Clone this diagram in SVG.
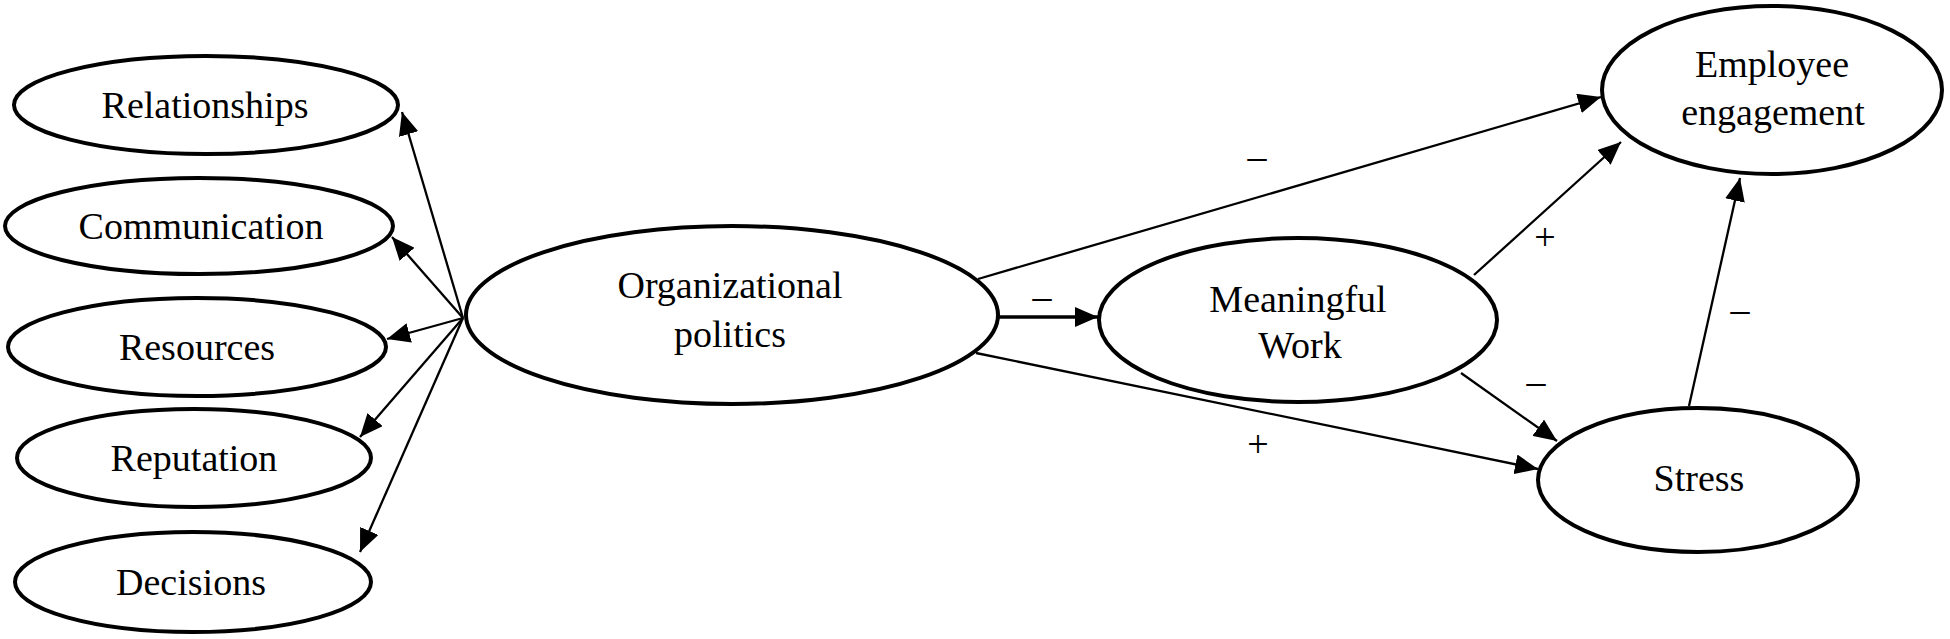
<svg xmlns="http://www.w3.org/2000/svg" width="1950" height="639" viewBox="0 0 1950 639">
<style>
.node ellipse{fill:#fff;stroke:#000;stroke-width:4}
text{font-family:"Liberation Serif","Times New Roman",serif;font-size:38px;fill:#000;text-anchor:middle}
.edge line{stroke:#000;stroke-width:2.3;fill:none}
</style>
<defs>
<marker id="ah" markerUnits="userSpaceOnUse" markerWidth="24" markerHeight="20" viewBox="0 0 24 20" refX="23" refY="10" orient="auto">
<path d="M0,0 L23,10 L0,20 z" fill="#000"/>
</marker>
</defs>
<rect width="1950" height="639" fill="#fff"/>
<g id="connectors" class="edge">
<line x1="463" y1="318" x2="402" y2="112" marker-end="url(#ah)"/>
<line x1="463" y1="318" x2="392" y2="237" marker-end="url(#ah)"/>
<line x1="463" y1="318" x2="387" y2="339" marker-end="url(#ah)"/>
<line x1="463" y1="318" x2="360" y2="437" marker-end="url(#ah)"/>
<line x1="463" y1="318" x2="360" y2="552" marker-end="url(#ah)"/>
<line x1="999" y1="317" x2="1098" y2="317" style="stroke-width:3.4" marker-end="url(#ah)"/>
<line x1="978" y1="279" x2="1601" y2="97" marker-end="url(#ah)"/>
<line x1="976" y1="353" x2="1538" y2="469" marker-end="url(#ah)"/>
<line x1="1474" y1="275" x2="1621" y2="142" marker-end="url(#ah)"/>
<line x1="1461" y1="373" x2="1557" y2="441" marker-end="url(#ah)"/>
<line x1="1689" y1="406" x2="1740" y2="178" marker-end="url(#ah)"/>
</g>
<g id="labels">
<text x="1257" y="169">–</text>
<text x="1042" y="309">–</text>
<text x="1258" y="457">+</text>
<text x="1545" y="250">+</text>
<text x="1536" y="394">–</text>
<text x="1740" y="322">–</text>
</g>
<g id="relationships" class="node"><ellipse cx="206" cy="105" rx="192" ry="49"/><text x="205" y="118">Relationships</text></g>
<g id="communication" class="node"><ellipse cx="199" cy="226" rx="194" ry="48"/><text x="201" y="239">Communication</text></g>
<g id="resources" class="node"><ellipse cx="197" cy="347" rx="189" ry="49"/><text x="197" y="360">Resources</text></g>
<g id="reputation" class="node"><ellipse cx="194" cy="458" rx="177" ry="49"/><text x="194" y="471">Reputation</text></g>
<g id="decisions" class="node"><ellipse cx="193" cy="582" rx="178" ry="50"/><text x="191" y="595">Decisions</text></g>
<g id="organizational-politics" class="node"><ellipse cx="732" cy="315" rx="266" ry="89"/><text x="730" y="298">Organizational</text><text x="730" y="347">politics</text></g>
<g id="meaningful-work" class="node"><ellipse cx="1298" cy="320" rx="199" ry="82"/><text x="1298" y="312">Meaningful</text><text x="1300" y="358">Work</text></g>
<g id="stress" class="node"><ellipse cx="1698" cy="480" rx="160" ry="72"/><text x="1699" y="491">Stress</text></g>
<g id="employee-engagement" class="node"><ellipse cx="1772" cy="90" rx="170" ry="84"/><text x="1772" y="77">Employee</text><text x="1773" y="125">engagement</text></g>
</svg>
